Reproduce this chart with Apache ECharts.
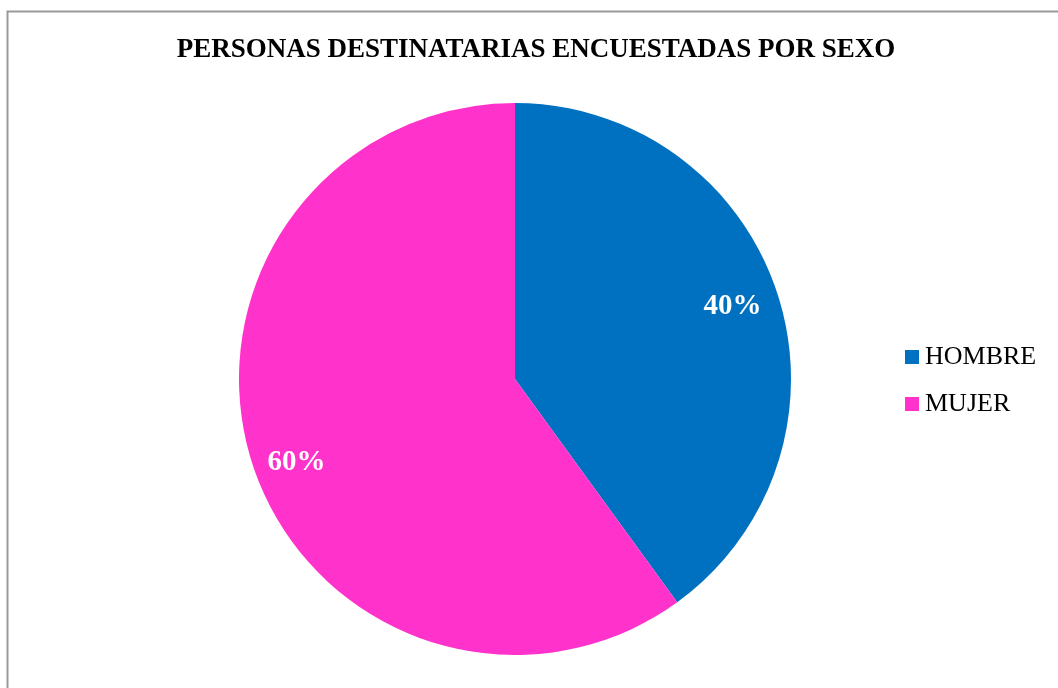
<!DOCTYPE html>
<html>
<head>
<meta charset="utf-8">
<script src="https://cdn.jsdelivr.net/npm/echarts@6/dist/echarts.min.js"></script>
<style>
  html, body { margin: 0; padding: 0; background: #fff; }
  #chart { width: 1058px; height: 688px; }
</style>
</head>
<body>
<div id="chart"></div>
<script>
// datos
const categorias = ['HOMBRE', 'MUJER'];
const valores = [40, 60];
const colores = ['#0070C0', '#FF33CC'];
// ajuste fino de las etiquetas (como en el original)
const desplazEtiquetas = [[-5, 0], [4, 11]];

const datos = categorias.map(function (nombre, i) {
    return {name: nombre, value: valores[i], itemStyle: {color: colores[i]}};
});

const serif = '"Liberation Serif", "Times New Roman", serif';

let chart = echarts.init(document.getElementById('chart'));
let option = {
    backgroundColor: '#fff',
    animation: false,
    title: {
        text: 'PERSONAS DESTINATARIAS ENCUESTADAS POR SEXO',
        left: 531,
        top: 45,
        textAlign: 'center',
        textVerticalAlign: 'middle',
        textStyle: {
            fontFamily: serif,
            fontWeight: 'bold',
            fontSize: 27,
            color: '#000'
        }
    },
    legend: {
        orient: 'vertical',
        left: 900,
        top: 339,
        icon: 'rect',
        itemWidth: 14,
        itemHeight: 14,
        itemGap: 21,
        data: categorias,
        textStyle: {
            fontFamily: serif,
            fontSize: 26,
            lineHeight: 26,
            color: '#000',
            padding: [0, 0, 0, 1]
        }
    },
    graphic: [{
        type: 'rect',
        silent: true,
        shape: {x: 7.5, y: 11.5, width: 1100, height: 700},
        style: {fill: 'none', stroke: '#999', lineWidth: 2}
    }],
    series: [
        {
            type: 'pie',
            center: [515, 379],
            radius: 276,
            startAngle: 90,
            label: {show: false},
            labelLine: {show: false},
            emphasis: {disabled: true},
            itemStyle: {borderWidth: 0},
            data: datos
        },
        {
            // serie invisible solo para colocar las etiquetas
            type: 'pie',
            center: [515, 379],
            radius: [186, 276],
            startAngle: 90,
            silent: true,
            legendHoverLink: false,
            itemStyle: {color: 'rgba(0,0,0,0)', borderWidth: 0},
            label: {
                show: true,
                position: 'inside',
                formatter: '{d}%',
                fontFamily: serif,
                fontWeight: 'bold',
                fontSize: 29,
                color: '#fff'
            },
            labelLine: {show: false},
            data: categorias.map(function (nombre, i) {
                return {name: nombre, value: valores[i], label: {offset: desplazEtiquetas[i]}};
            })
        }
    ]
};
chart.setOption(option);
</script>
</body>
</html>
